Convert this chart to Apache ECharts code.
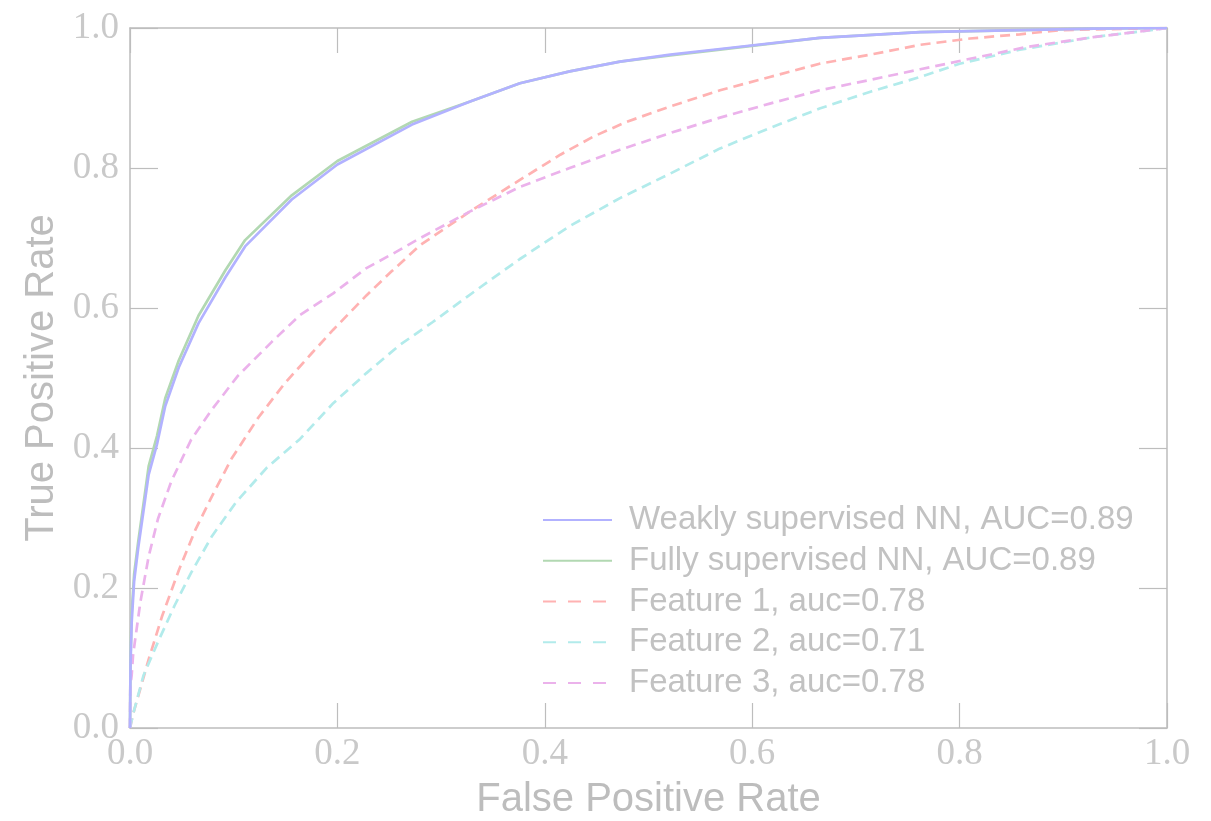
<!DOCTYPE html>
<html>
<head>
<meta charset="utf-8">
<script src="https://cdn.jsdelivr.net/npm/echarts@6/dist/echarts.min.js"></script>
<style>
html,body{margin:0;padding:0;background:#fff;}
#chart{width:1211px;height:821px;}
</style>
</head>
<body>
<div id="chart"></div>
<script>
// ---- data ----
var seriesNames = [
  'Weakly supervised NN, AUC=0.89',
  'Fully supervised NN, AUC=0.89',
  'Feature 1, auc=0.78',
  'Feature 2, auc=0.71',
  'Feature 3, auc=0.78'
];
var xTicks = [0.0, 0.2, 0.4, 0.6, 0.8, 1.0];
var yTicks = [0.0, 0.2, 0.4, 0.6, 0.8, 1.0];

var fprWeak = [0,0.0005,0.0016,0.004,0.008,0.013,0.018,0.026,0.034,0.047,0.066,0.092,0.111,0.156,0.2,0.272,0.328,0.376,0.424,0.4725,0.521,0.569,0.665,0.762,0.858,0.93,1];
var tprWeak = [0,0.09,0.15,0.21,0.258,0.31,0.362,0.405,0.46,0.515,0.578,0.644,0.688,0.755,0.805,0.862,0.895,0.921,0.938,0.952,0.962,0.970,0.986,0.994,0.997,0.999,1];

var fprFull = [0,0.0005,0.0016,0.004,0.008,0.013,0.018,0.026,0.034,0.047,0.066,0.092,0.111,0.156,0.2,0.272,0.328,0.376,0.424,0.4725,0.521,0.569,0.665,0.762,0.858,0.93,1];
var tprFull = [0,0.10,0.164,0.22,0.267,0.32,0.374,0.417,0.471,0.525,0.589,0.654,0.697,0.761,0.81,0.866,0.895,0.921,0.938,0.952,0.961,0.969,0.986,0.994,0.997,0.999,1];

var fprF1 = [0,0.003,0.008,0.018,0.031,0.047,0.063,0.079,0.098,0.124,0.149,0.175,0.196,0.228,0.252,0.28,0.328,0.376,0.415,0.447,0.479,0.521,0.569,0.617,0.665,0.714,0.762,0.81,0.858,0.897,1];
var tprF1 = [0,0.02,0.046,0.098,0.16,0.225,0.283,0.331,0.385,0.444,0.492,0.535,0.569,0.618,0.652,0.69,0.738,0.783,0.819,0.845,0.866,0.888,0.911,0.93,0.949,0.962,0.976,0.985,0.991,0.997,1];

var fprF2 = [0,0.003,0.013,0.027,0.043,0.059,0.079,0.102,0.132,0.164,0.196,0.228,0.26,0.292,0.325,0.357,0.376,0.424,0.4725,0.521,0.569,0.617,0.665,0.714,0.762,0.8,0.858,0.929,0.974,1];
var tprF2 = [0,0.02,0.075,0.123,0.175,0.222,0.274,0.322,0.372,0.413,0.464,0.507,0.547,0.58,0.616,0.65,0.67,0.717,0.757,0.792,0.828,0.857,0.885,0.909,0.93,0.949,0.969,0.987,0.995,1];

var fprF3 = [0,0.0003,0.0016,0.003,0.01,0.018,0.027,0.04,0.059,0.079,0.104,0.137,0.164,0.196,0.228,0.254,0.28,0.328,0.376,0.424,0.4725,0.521,0.569,0.617,0.665,0.714,0.762,0.81,0.865,0.929,0.974,1];
var tprF3 = [0,0.06,0.075,0.105,0.18,0.245,0.299,0.353,0.412,0.455,0.503,0.552,0.59,0.621,0.657,0.678,0.70,0.738,0.773,0.8,0.826,0.85,0.872,0.892,0.911,0.926,0.941,0.956,0.973,0.987,0.995,1];

// ---- build ----
function zip(xs, ys){ return xs.map(function(x,i){ return [x, ys[i]]; }); }
var colors = ['#b2b2ff', '#b2d8b2', '#ffb2b2', '#b2ebeb', '#ebb2eb'];
var dash = [10, 6];
var legendDash = [13, 12];
var allData = [zip(fprWeak,tprWeak), zip(fprFull,tprFull), zip(fprF1,tprF1), zip(fprF2,tprF2), zip(fprF3,tprF3)];
var dashed = [false, false, true, true, true];

var series = allData.map(function(d, i){
  return {
    name: seriesNames[i],
    type: 'line',
    xAxisIndex: 0, yAxisIndex: 0,
    data: d,
    showSymbol: false,
    symbol: 'none',
    smooth: false,
    animation: false,
    z: i < 2 ? 3 - i : 2,
    lineStyle: { color: colors[i], width: 2.7, type: dashed[i] ? dash : 'solid' },
    itemStyle: { color: colors[i] }
  };
});

var axisColor = '#bdbdbd';
var tickLabelStyle = { fontFamily: 'Liberation Serif', fontSize: 37, color: '#c9c9c9' };

var chart = echarts.init(document.getElementById('chart'), null, {renderer: 'canvas'});
chart.setOption({
  animation: false,
  backgroundColor: '#ffffff',
  grid: { left: 130, top: 28, right: 44, bottom: 93, containLabel: false, outerBoundsMode: 'none' },
  legend: {
    orient: 'vertical',
    left: 537, top: 498,
    itemWidth: 69, itemHeight: 14, itemGap: 6.75,
    textStyle: { fontFamily: 'Liberation Sans', fontSize: 33, color: '#c2c2c2', lineHeight: 34, padding: [0,0,0,12] },
    data: seriesNames.map(function(n, i){
      return {
        name: n,
        itemStyle: { opacity: 0, borderWidth: 0 },
        lineStyle: { type: dashed[i] ? legendDash : 'solid', width: 2, opacity: 1 }
      };
    })
  },
  xAxis: [
    {
      type: 'value', min: 0, max: 1, interval: 0.2, position: 'bottom',
      name: 'False Positive Rate', nameLocation: 'middle', nameGap: 52,
      nameTextStyle: { fontFamily: 'Liberation Sans', fontSize: 40, color: '#bdbdbd' },
      axisLine: { show: true, onZero: false, lineStyle: { color: axisColor, width: 1.5 } },
      axisTick: { show: true, inside: true, length: 25, lineStyle: { color: axisColor, width: 1.2 } },
      axisLabel: Object.assign({ margin: 8, formatter: function(v){ return v.toFixed(1); } }, tickLabelStyle),
      splitLine: { show: false }
    },
    {
      type: 'value', min: 0, max: 1, interval: 0.2, position: 'top',
      axisLine: { show: true, onZero: false, lineStyle: { color: axisColor, width: 1.5 } },
      axisTick: { show: true, inside: true, length: 25, lineStyle: { color: axisColor, width: 1.2 } },
      axisLabel: { show: false },
      splitLine: { show: false }
    }
  ],
  yAxis: [
    {
      type: 'value', min: 0, max: 1, interval: 0.2, position: 'left',
      name: 'True Positive Rate', nameLocation: 'middle', nameGap: 68,
      nameTextStyle: { fontFamily: 'Liberation Sans', fontSize: 40, color: '#bdbdbd' },
      axisLine: { show: true, onZero: false, lineStyle: { color: axisColor, width: 1.5 } },
      axisTick: { show: true, inside: true, length: 28, lineStyle: { color: axisColor, width: 1.2 } },
      axisLabel: Object.assign({ margin: 11, formatter: function(v){ return v.toFixed(1); } }, tickLabelStyle),
      splitLine: { show: false }
    },
    {
      type: 'value', min: 0, max: 1, interval: 0.2, position: 'right',
      axisLine: { show: true, onZero: false, lineStyle: { color: axisColor, width: 1.5 } },
      axisTick: { show: true, inside: true, length: 28, lineStyle: { color: axisColor, width: 1.2 } },
      axisLabel: { show: false },
      splitLine: { show: false }
    }
  ],
  series: series
});
</script>
</body>
</html>
